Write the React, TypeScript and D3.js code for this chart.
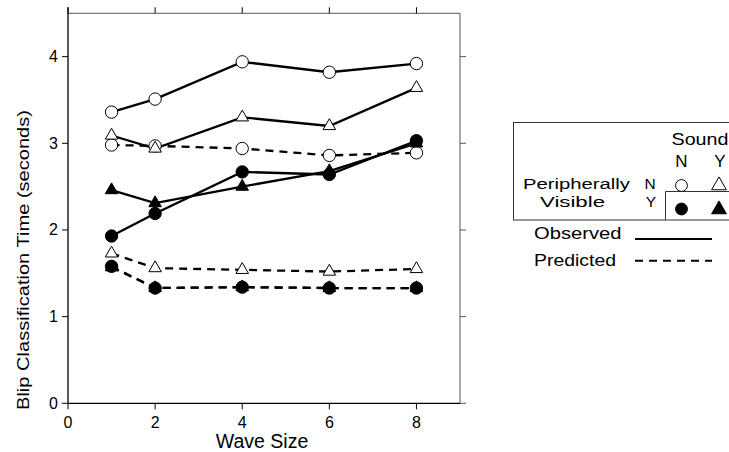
import React from "react";
import * as d3 from "d3";

const waveSizes = [1, 2, 4, 6, 8];
const obsNN = [3.36, 3.51, 3.94, 3.82, 3.92];
const obsNY = [3.09, 2.94, 3.3, 3.2, 3.64];
const obsYN = [1.93, 2.19, 2.67, 2.64, 3.03];
const obsYY = [2.46, 2.31, 2.5, 2.68, 3.0];
const predNN = [2.98, 2.97, 2.94, 2.86, 2.89];
const predNY = [1.73, 1.56, 1.54, 1.52, 1.55];
const predYN = [1.58, 1.33, 1.34, 1.33, 1.33];
const predYY = [1.57, 1.33, 1.34, 1.33, 1.33];
const xTicks = [0, 2, 4, 6, 8];
const yTicks = [0, 1, 2, 3, 4];

type Series = { values: number[]; shape: "circle" | "triangle"; filled: boolean; dashed: boolean };
const series: Series[] = [
  { values: predYY, shape: "triangle", filled: true, dashed: true },
  { values: predYN, shape: "circle", filled: true, dashed: true },
  { values: predNY, shape: "triangle", filled: false, dashed: true },
  { values: predNN, shape: "circle", filled: false, dashed: true },
  { values: obsYY, shape: "triangle", filled: true, dashed: false },
  { values: obsYN, shape: "circle", filled: true, dashed: false },
  { values: obsNY, shape: "triangle", filled: false, dashed: false },
  { values: obsNN, shape: "circle", filled: false, dashed: false },
];

const FONT = "'Liberation Sans', Arial, Helvetica, sans-serif";

export default function App() {
  const L = 68, R = 460, T = 13.3, B = 403.3;
  const x = d3.scaleLinear().domain([0, 9]).range([L, R]);
  const y = d3.scaleLinear().domain([0, 4.5]).range([B, T]);
  const line = d3.line<number>().x((_, i) => x(waveSizes[i])).y((v) => y(v));
  const circlePath = d3.symbol().type(d3.symbolCircle).size(120)()!;
  const triPath = d3.symbol().type(d3.symbolTriangle).size(68)()!;
  const lgCircle = d3.symbol().type(d3.symbolCircle).size(110)()!;
  const lgTri = d3.symbol().type(d3.symbolTriangle).size(95)()!;

  const marker = (s: Series, cx: number, cy: number, key: string, small = false) => (
    <path
      key={key}
      d={s.shape === "circle" ? (small ? lgCircle : circlePath) : small ? lgTri : triPath}
      transform={`translate(${cx},${cy})`}
      fill={s.filled ? "#000" : "#fff"}
      stroke="#000"
      strokeWidth={1}
    />
  );

  const LF = 17;
  const LF2 = 15.5;

  return (
    <svg width={729} height={452} style={{ position: "absolute", left: 0, top: 0, background: "#fff" }} fontFamily={FONT}>
      {/* frame top & right */}
      <line x1={L} x2={R} y1={T} y2={T} stroke="#555" strokeWidth={1} />
      <line x1={R} x2={R} y1={T} y2={B} stroke="#555" strokeWidth={1} />
      {xTicks.map((t) => (
        <line key={"tt" + t} x1={x(t)} x2={x(t)} y1={T} y2={T - 6} stroke="#000" strokeWidth={1} />
      ))}
      {yTicks.map((t) => (
        <line key={"rt" + t} x1={R} x2={R + 6} y1={y(t)} y2={y(t)} stroke="#555" strokeWidth={1} />
      ))}
      {/* left & bottom axes */}
      <line x1={L} x2={L} y1={T - 6} y2={B} stroke="#000" strokeWidth={1.3} />
      <line x1={L} x2={R} y1={B} y2={B} stroke="#000" strokeWidth={1.3} />
      {yTicks.map((t) => (
        <g key={"yt" + t}>
          <line x1={L - 6} x2={L} y1={y(t)} y2={y(t)} stroke="#000" strokeWidth={1} />
          <text x={L - 10} y={y(t) + 5.5} textAnchor="end" fontSize={16}>{t}</text>
        </g>
      ))}
      {xTicks.map((t) => (
        <g key={"xt" + t}>
          <line x1={x(t)} x2={x(t)} y1={B} y2={B + 6} stroke="#000" strokeWidth={1} />
          <text x={x(t)} y={B + 25} textAnchor="middle" fontSize={16}>{t}</text>
        </g>
      ))}
      <text x={262} y={448} textAnchor="middle" fontSize={19.5}>Wave Size</text>
      <text
        transform="translate(29,260) rotate(-90)"
        textAnchor="middle"
        fontSize={17}
        textLength={300}
        lengthAdjust="spacingAndGlyphs"
      >
        Blip Classification Time (seconds)
      </text>

      {/* lines */}
      {series.map((s, i) => (
        <path
          key={"l" + i}
          d={line(s.values)!}
          fill="none"
          stroke="#000"
          strokeWidth={2.3}
          strokeDasharray={s.dashed ? "8,6" : undefined}
        />
      ))}
      {/* markers */}
      {series.map((s, i) => (
        <g key={"m" + i}>
          {s.values.map((v, j) => marker(s, x(waveSizes[j]), y(v), `m${i}-${j}`))}
        </g>
      ))}

      {/* legend */}
      <rect x={513.5} y={122.5} width={240} height={97.5} fill="#fff" stroke="#333" strokeWidth={1} />
      <line x1={665.5} x2={665.5} y1={191.5} y2={220} stroke="#333" strokeWidth={1} />
      <line x1={665.5} x2={740} y1={191.5} y2={191.5} stroke="#333" strokeWidth={1} />
      <text x={671.5} y={145} fontSize={LF} textLength={57} lengthAdjust="spacingAndGlyphs">Sound</text>
      <text x={681.5} y={166.5} fontSize={LF} textAnchor="middle">N</text>
      <text x={720} y={166.5} fontSize={LF} textAnchor="middle">Y</text>
      <text x={523} y={189} fontSize={LF2} textLength={107} lengthAdjust="spacingAndGlyphs">Peripherally</text>
      <text x={540} y={206.5} fontSize={LF2} textLength={65} lengthAdjust="spacingAndGlyphs">Visible</text>
      <text x={650} y={189} fontSize={LF2} textAnchor="middle">N</text>
      <text x={651} y={206.5} fontSize={LF2} textAnchor="middle">Y</text>
      {marker(series[3], 681.5, 185.5, "lg1", true)}
      {marker(series[2], 719, 185.5, "lg2", true)}
      {marker(series[1], 681.5, 209, "lg3", true)}
      {marker(series[0], 719, 209.5, "lg4", true)}
      <text x={534} y={238.5} fontSize={LF} textLength={87.5} lengthAdjust="spacingAndGlyphs">Observed</text>
      <line x1={635} x2={712} y1={239} y2={239} stroke="#000" strokeWidth={2} />
      <text x={534} y={266} fontSize={LF} textLength={82} lengthAdjust="spacingAndGlyphs">Predicted</text>
      <line x1={635} x2={712} y1={260.7} y2={260.7} stroke="#000" strokeWidth={2} strokeDasharray="8,6" />
    </svg>
  );
}
